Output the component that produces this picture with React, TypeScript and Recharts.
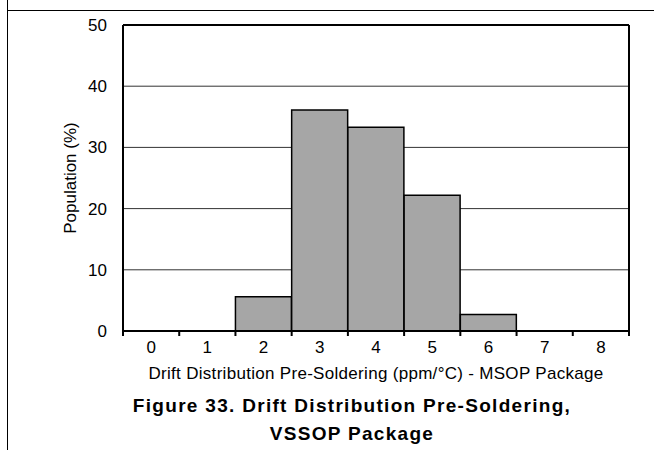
import { BarChart, Bar, XAxis, YAxis, CartesianGrid, ReferenceLine } from 'recharts';

const bins = ['0', '1', '2', '3', '4', '5', '6', '7', '8'];
const population = [0, 0, 5.6, 36.1, 33.3, 22.2, 2.7, 0, 0];
const yTicks = [0, 10, 20, 30, 40, 50];
const binEdges = [-0.5, 0.5, 1.5, 2.5, 3.5, 4.5, 5.5, 6.5, 7.5, 8.5];

const data = bins.map((bin, i) => ({ bin, idx: i, population: population[i] }));

const font = 'Arial, "Liberation Sans", sans-serif';

export default function App() {
  return (
    <div style={{ position: 'absolute', left: 0, top: 0, width: 654, height: 450, background: '#fff', fontFamily: font }}>
      {/* page frame */}
      <div style={{ position: 'absolute', left: 7, top: 0, width: 1, height: 450, background: '#000' }} />
      <div style={{ position: 'absolute', left: 7, top: 10, width: 647, height: 1, background: '#000' }} />

      <div style={{ position: 'absolute', left: 0, top: 0 }}>
        <BarChart
          width={654}
          height={390}
          data={data}
          margin={{ top: 25, right: 25, left: 0, bottom: 11 }}
          barCategoryGap={0}
        >
          <CartesianGrid xAxisId="edges" horizontal vertical={false} stroke="#333" strokeWidth={1} />
          {/* tick marks sit on the bin edges, so they come from a numeric axis */}
          <XAxis
            xAxisId="edges"
            dataKey="idx"
            type="number"
            domain={[-0.5, 8.5]}
            ticks={binEdges}
            tick={() => <g />}
            tickSize={5}
            tickLine={{ stroke: '#000', strokeWidth: 2 }}
            axisLine={{ stroke: '#000', strokeWidth: 2 }}
            height={1}
            allowDataOverflow
          />
          <XAxis
            xAxisId="labels"
            dataKey="bin"
            tickLine={false}
            tickMargin={3}
            axisLine={false}
            tick={{ fill: '#000', fontSize: 17, fontFamily: font }}
            height={47}
            label={{
              value: 'Drift Distribution Pre-Soldering (ppm/°C) -  MSOP Package',
              position: 'insideBottom',
              offset: 0,
              style: { fill: '#000', fontSize: 17, letterSpacing: 0.3, fontFamily: font, whiteSpace: 'pre' },
            }}
          />
          <YAxis
            domain={[0, 50]}
            ticks={yTicks}
            width={123}
            tickLine={false}
            tickSize={14}
            axisLine={{ stroke: '#000', strokeWidth: 2 }}
            tick={{ fill: '#000', fontSize: 17, fontFamily: font }}
            label={{
              value: 'Population (%)',
              angle: -90,
              position: 'insideLeft',
              offset: 70,
              style: { fill: '#000', fontSize: 17, fontFamily: font, textAnchor: 'middle' },
            }}
          />
          <ReferenceLine xAxisId="edges" y={50} stroke="#000" strokeWidth={2} />
          <ReferenceLine xAxisId="edges" x={8.5} stroke="#000" strokeWidth={2} />
          <Bar
            xAxisId="labels"
            dataKey="population"
            fill="#a6a6a6"
            stroke="#000"
            strokeWidth={1.5}
            isAnimationActive={false}
          />
        </BarChart>
      </div>

      <div
        style={{
          position: 'absolute',
          left: 0,
          width: 704,
          top: 392,
          textAlign: 'center',
          fontWeight: 'bold',
          fontSize: 19,
          letterSpacing: 1.3,
          lineHeight: '28px',
          color: '#000',
        }}
      >
        Figure 33. Drift Distribution Pre-Soldering,
        <br />
        VSSOP Package
      </div>
    </div>
  );
}
